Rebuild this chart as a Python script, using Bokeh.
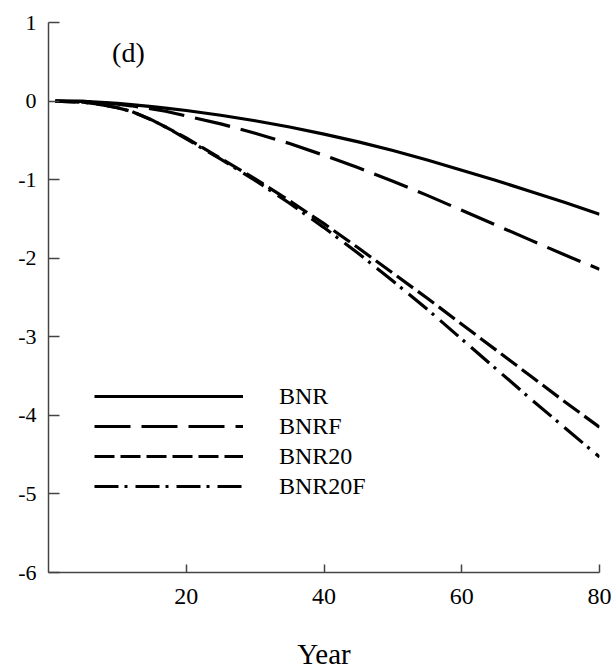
from bokeh.plotting import figure
from bokeh.models import Range1d, FixedTicker, Legend, LegendItem
from bokeh.core.properties import value
from bokeh.embed import file_html
from bokeh.resources import INLINE

years = [1, 5, 7, 10, 12, 15, 17, 20, 25, 30, 35, 40, 45, 50, 55, 60, 65, 70, 75, 80]
bnr = [0, -0.005, -0.012, -0.03, -0.045, -0.07, -0.09, -0.12, -0.18, -0.25, -0.33, -0.42, -0.52, -0.63, -0.75, -0.88, -1.01, -1.15, -1.29, -1.44]
bnrf = [0, -0.005, -0.015, -0.04, -0.06, -0.10, -0.13, -0.19, -0.29, -0.41, -0.54, -0.69, -0.85, -1.02, -1.20, -1.39, -1.58, -1.77, -1.96, -2.14]
bnr20 = [0, -0.015, -0.035, -0.085, -0.13, -0.24, -0.33, -0.47, -0.73, -0.99, -1.27, -1.56, -1.87, -2.19, -2.51, -2.84, -3.17, -3.50, -3.83, -4.15]
bnr20f = [0, -0.015, -0.035, -0.085, -0.13, -0.24, -0.33, -0.48, -0.74, -1.01, -1.30, -1.61, -1.94, -2.29, -2.65, -3.03, -3.41, -3.79, -4.16, -4.53]
series_names = ["BNR", "BNRF", "BNR20", "BNR20F"]
x_ticks = [20, 40, 60, 80]
y_ticks = [1, 0, -1, -2, -3, -4, -5, -6]
panel_label = "(d)"
x_title = "Year"

FONT = "Liberation Serif"

p = figure(width=615, height=672, output_backend="svg", toolbar_location=None,
           x_range=Range1d(0, 80), y_range=Range1d(-6, 1),
           min_border_left=48, min_border_right=16, min_border_top=22, min_border_bottom=100)
p.outline_line_color = None
p.xgrid.visible = False
p.ygrid.visible = False
p.background_fill_color = "white"
p.border_fill_color = "white"

for ax in (p.xaxis[0], p.yaxis[0]):
    ax.axis_line_color = "#444444"
    ax.axis_line_width = 1.5
    ax.major_tick_line_color = "#444444"
    ax.major_tick_line_width = 1.5
    ax.major_tick_out = 0
    ax.minor_tick_line_color = None
    ax.major_label_text_font = FONT
    ax.major_label_text_color = "black"

p.xaxis.ticker = FixedTicker(ticks=x_ticks)
p.xaxis.major_tick_in = 8
p.xaxis.major_label_text_font_size = "24px"
p.xaxis.major_label_standoff = 16
p.xaxis.axis_label = x_title
p.xaxis.axis_label_text_font = FONT
p.xaxis.axis_label_text_font_size = "29px"
p.xaxis.axis_label_text_font_style = "normal"
p.xaxis.axis_label_text_color = "black"
p.xaxis.axis_label_standoff = 31

p.yaxis.ticker = FixedTicker(ticks=y_ticks)
p.yaxis.major_tick_in = 11
p.yaxis.major_label_text_font_size = "22px"
p.yaxis.major_label_standoff = 12
p.yaxis.major_label_overrides = {v: str(v) for v in y_ticks}

styles = [("solid", 3.2), ("36 11", 3.2), ("20 6", 3.2), ("24 6 3 8", 3.2)]
renderers = []
for ys, (dash, w) in zip([bnr, bnrf, bnr20, bnr20f], styles):
    r = p.line(years, ys, line_color="black", line_width=w, line_dash=dash, line_join="round")
    renderers.append(r)

p.text(x=[11.6], y=[0.62], text=[panel_label], text_font=value(FONT),
       text_font_size="28px", text_align="center", text_baseline="middle", text_color="black")

legend = Legend(items=[LegendItem(label=n, renderers=[r]) for n, r in zip(series_names, renderers)],
                location=(46, 72), orientation="vertical",
                glyph_width=149, glyph_height=28, label_height=28, spacing=2,
                label_standoff=36, padding=0, margin=0,
                label_text_font=FONT, label_text_font_size="24px", label_text_color="black",
                border_line_color=None, background_fill_alpha=0)
p.add_layout(legend, "center")

open("out.html", "w").write(file_html(p, INLINE))
